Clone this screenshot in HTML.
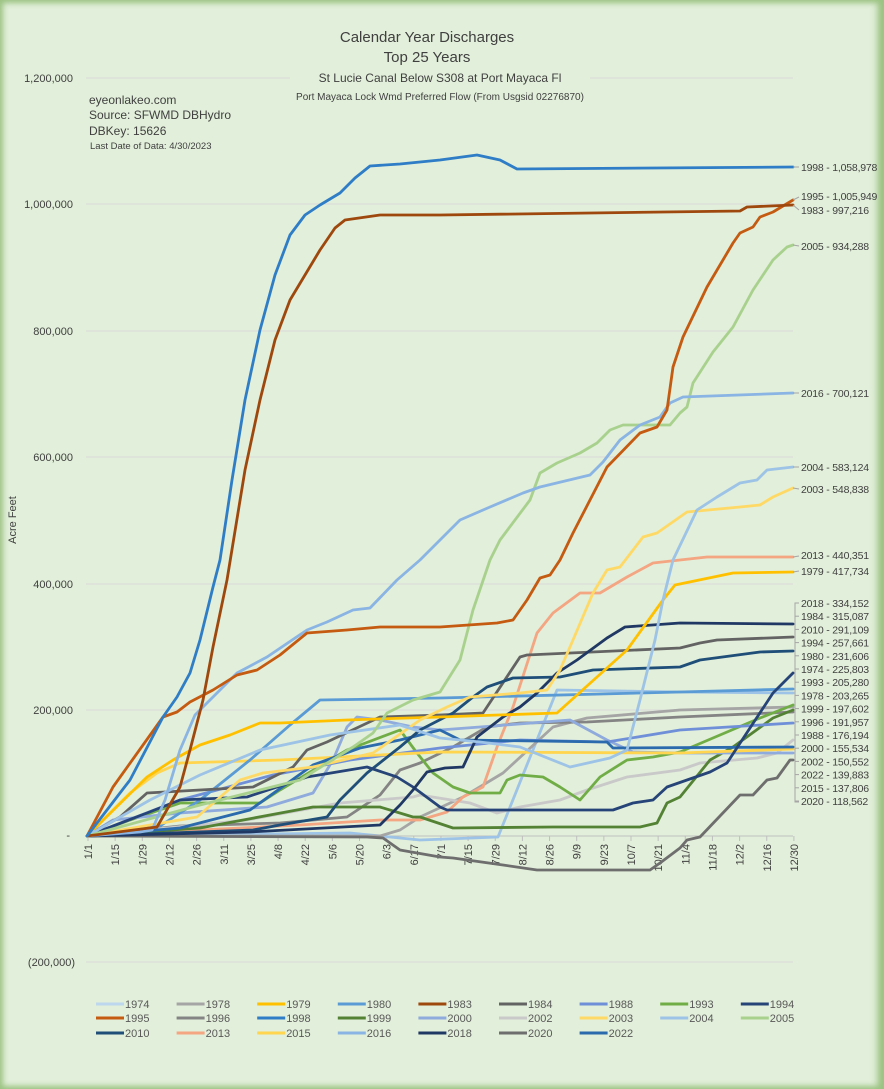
<!DOCTYPE html>
<html><head><meta charset="utf-8"><style>
html,body{margin:0;padding:0;}
body{width:884px;height:1089px;overflow:hidden;background:#e2efda;font-family:"Liberation Sans",sans-serif;}
.wrap{position:absolute;left:0;top:0;width:884px;height:1089px;box-shadow:inset 0 0 6px 3px #9cc383, inset -10px 0 8px -4px #9cc383;}
svg{position:absolute;left:0;top:0;}
</style></head><body><div class="wrap"></div>
<svg width="884" height="1089" xmlns="http://www.w3.org/2000/svg" font-family="Liberation Sans, sans-serif">
<g stroke="#d9d9d9" stroke-width="1">
<line x1="86" y1="78" x2="793" y2="78"/><line x1="86" y1="204" x2="793" y2="204"/>
<line x1="86" y1="331" x2="793" y2="331"/><line x1="86" y1="457" x2="793" y2="457"/>
<line x1="86" y1="584" x2="793" y2="584"/><line x1="86" y1="710" x2="793" y2="710"/>
<line x1="86" y1="962" x2="793" y2="962"/>
</g>
<rect x="290" y="68" width="300" height="36" fill="#e2efda"/>
<g fill="#404040" text-anchor="middle">
<text x="427" y="42" font-size="15">Calendar Year Discharges</text>
<text x="427" y="62" font-size="15">Top 25 Years</text>
<text x="440" y="82" font-size="12">St Lucie Canal Below S308 at Port Mayaca Fl</text>
<text x="440" y="100" font-size="10">Port Mayaca Lock Wmd Preferred Flow (From Usgsid 02276870)</text>
</g>
<g fill="#404040" font-size="12">
<text x="89" y="104">eyeonlakeo.com</text>
<text x="89" y="119">Source: SFWMD DBHydro</text>
<text x="89" y="135">DBKey: 15626</text>
<text x="90" y="149" font-size="9.5">Last Date of Data: 4/30/2023</text>
</g>
<g fill="#404040" font-size="11" text-anchor="end">
<text x="73" y="82">1,200,000</text><text x="73" y="208">1,000,000</text>
<text x="73" y="335">800,000</text><text x="73" y="461">600,000</text>
<text x="73" y="588">400,000</text><text x="73" y="714">200,000</text>
<text x="70" y="839">-</text><text x="75" y="966">(200,000)</text>
</g>
<text transform="translate(16,520) rotate(-90)" text-anchor="middle" font-size="11" fill="#404040">Acre Feet</text>
<line x1="86" y1="836" x2="793" y2="836" stroke="#bfbfbf"/>
<g id="xt" fill="#404040" font-size="11" text-anchor="end"></g>
<g fill="none" stroke-width="2.8" stroke-linejoin="round" stroke-linecap="round">
<polyline stroke="#9dc3e6" points="87,836 350,833 420,840 498,837 557,690 680,692 793,693"/>
<polyline stroke="#a5a5a5" points="87,836 380,836 400,830 420,817 463,797 503,773 553,727 587,718 680,710 793,707"/>
<polyline stroke="#848484" points="87,836 180,826 280,823 347,817 380,795 400,770 420,763 453,747 487,727 520,723 587,722 680,717 793,712"/>
<polyline stroke="#c9c9c9" points="87,836 247,820 340,803 413,797 420,795 470,803 497,813 520,807 560,800 587,790 627,777 680,770 700,763 757,758 777,753 793,740"/>
<polyline stroke="#6e6e6e" points="87,836 367,837 383,838 400,850 440,857 453,858 503,865 537,870 650,870 660,863 680,848 687,840 700,837 740,795 753,795 767,780 777,778 790,760 793,760"/>
<polyline stroke="#f4a582" points="87,836 200,830 300,825 380,820 420,820 447,812 463,797 483,787 497,747 513,707 537,633 553,613 580,593 600,593 627,577 653,563 707,557 793,557"/>
<polyline stroke="#548235" points="87,836 200,828 313,807 380,807 413,817 420,817 453,828 553,827 640,827 657,823 667,803 680,797 710,760 733,747 773,718 793,710"/>
<polyline stroke="#70ad47" points="87,836 130,820 180,803 260,803 280,790 347,750 400,730 417,753 433,773 453,787 470,793 500,793 507,780 520,775 543,777 560,787 580,800 600,777 627,760 653,757 680,752 720,735 760,718 793,705"/>
<polyline stroke="#8faadc" points="87,836 113,820 180,813 267,807 313,793 333,760 347,727 357,717 380,720 413,727 440,730 480,727 570,720 607,740 633,752 680,753 793,753"/>
<polyline stroke="#6f8fd8" points="87,836 180,800 273,775 350,760 440,748 520,740 607,742 680,730 793,723"/>
<polyline stroke="#ffd54f" points="87,836 130,793 157,773 180,763 280,760 440,752 680,753 793,749"/>
<polyline stroke="#2a6aad" points="87,836 180,828 250,810 313,765 360,748 400,740 440,730 460,740 607,742 613,748 793,747"/>
<polyline stroke="#5b9bd5" points="87,836 160,826 200,800 250,760 290,725 320,700 440,698 680,692 793,689"/>
<polyline stroke="#636363" points="87,836 120,817 147,793 253,787 293,767 307,750 327,742 380,717 440,715 483,713 520,657 527,655 680,648 700,643 717,640 793,637"/>
<polyline stroke="#1f4e79" points="87,836 253,830 280,825 327,817 340,800 367,773 400,747 420,730 453,713 473,697 487,687 513,678 560,677 593,670 680,667 700,660 760,652 793,651"/>
<polyline stroke="#264478" points="87,836 147,813 180,800 247,797 307,777 367,767 397,777 413,787 440,807 447,810 613,810 633,803 653,800 667,787 687,780 710,772 727,763 773,693 793,673"/>
<polyline stroke="#203864" points="87,836 250,832 380,825 400,805 413,790 427,772 445,768 463,767 477,737 503,717 520,707 537,693 557,673 577,660 607,638 625,627 680,623 793,624"/>
<polyline stroke="#ffc000" points="87,836 147,777 173,760 200,745 230,735 260,723 280,723 347,720 440,717 557,713 627,650 663,600 675,585 733,573 793,572"/>
<polyline stroke="#ffd966" points="87,836 150,825 197,817 240,780 263,773 313,767 373,753 420,720 447,707 470,697 520,693 547,690 560,670 573,640 593,593 607,570 620,567 643,537 657,533 687,512 740,507 760,505 773,497 793,488"/>
<polyline stroke="#9dc3e6" points="87,836 150,800 200,775 260,750 330,735 400,725 440,738 480,742 520,747 570,767 610,758 627,750 640,700 655,640 663,600 673,560 697,510 717,497 740,483 757,480 767,470 793,467"/>
<polyline stroke="#a9d18e" points="87,836 200,805 300,780 353,747 373,733 387,713 413,700 440,692 460,660 473,610 490,560 500,540 530,500 540,473 557,463 580,453 597,443 610,430 623,425 670,425 680,413 687,407 693,383 713,352 733,327 753,290 773,260 787,247 793,245"/>
<polyline stroke="#8ab4e3" points="87,836 140,832 152,830 165,800 180,750 195,715 210,700 237,673 267,657 307,630 327,622 353,610 370,608 397,580 420,560 440,540 460,520 490,507 523,493 540,487 590,475 603,462 620,440 640,425 660,417 670,403 683,397 793,393"/>
<polyline stroke="#c55a11" points="87,836 113,787 163,717 177,712 190,702 213,690 237,675 257,670 280,655 307,633 347,630 380,627 440,627 497,623 513,620 527,600 540,578 550,575 560,560 573,533 607,467 640,433 657,427 667,410 673,367 683,337 707,287 733,243 740,233 753,227 760,217 773,212 793,200"/>
<polyline stroke="#9e480e" points="87,836 157,827 180,787 190,750 203,700 213,647 227,580 245,470 260,400 275,340 290,300 305,275 320,250 335,228 345,220 380,215 440,215 740,211 747,207 793,205"/>
<polyline stroke="#2e7dc6" points="87,836 130,780 163,717 177,697 190,673 200,640 213,587 220,560 232,480 245,400 260,330 275,275 290,235 305,215 320,205 340,193 355,178 370,166 400,164 440,160 477,155 500,160 517,169 793,167"/>
</g>
<g stroke="#a6a6a6" fill="none">
<line x1="793" y1="167" x2="799" y2="167"/><line x1="793" y1="200" x2="799" y2="197"/>
<line x1="793" y1="205" x2="799" y2="210"/><line x1="793" y1="245" x2="799" y2="246"/>
<line x1="793" y1="393" x2="799" y2="393"/><line x1="793" y1="467" x2="799" y2="467"/>
<line x1="793" y1="488" x2="799" y2="489"/><line x1="793" y1="557" x2="799" y2="556"/>
<line x1="793" y1="572" x2="799" y2="571"/>
<polyline points="799,603 795,603 795,802 799,802"/>
</g>
<g fill="#404040" font-size="10.5" id="rl" letter-spacing="-0.2">
<text x="801" y="171">1998 - 1,058,978</text><text x="801" y="200">1995 - 1,005,949</text>
<text x="801" y="214">1983 - 997,216</text><text x="801" y="250">2005 - 934,288</text>
<text x="801" y="397">2016 - 700,121</text><text x="801" y="471">2004 - 583,124</text>
<text x="801" y="493">2003 - 548,838</text><text x="801" y="559">2013 - 440,351</text>
<text x="801" y="575">1979 - 417,734</text>
</g>
<g id="lg" font-size="11" fill="#595959"></g>
<script>
var ns="http://www.w3.org/2000/svg";
var xt=document.getElementById("xt");
var labs=["1/1","1/15","1/29","2/12","2/26","3/11","3/25","4/8","4/22","5/6","5/20","6/3","6/17","7/1","7/15","7/29","8/12","8/26","9/9","9/23","10/7","10/21","11/4","11/18","12/2","12/16","12/30"];
labs.forEach(function(l,i){var x=88+i*27.15;
var ln=document.createElementNS(ns,"line");ln.setAttribute("x1",x);ln.setAttribute("x2",x);ln.setAttribute("y1",836);ln.setAttribute("y2",841);ln.setAttribute("stroke","#bfbfbf");xt.appendChild(ln);
var t=document.createElementNS(ns,"text");t.setAttribute("transform","translate("+(x+4)+",844) rotate(-90)");t.textContent=l;xt.appendChild(t);});
var rl=document.getElementById("rl");
var r=["2018 - 334,152","1984 - 315,087","2010 - 291,109","1994 - 257,661","1980 - 231,606","1974 - 225,803","1993 - 205,280","1978 - 203,265","1999 - 197,602","1996 - 191,957","1988 - 176,194","2000 - 155,534","2002 - 150,552","2022 - 139,883","2015 - 137,806","2020 - 118,562"];
r.forEach(function(s,i){var y=603+i*13.2;var t=document.createElementNS(ns,"text");t.setAttribute("x",801);t.setAttribute("y",y+4);t.textContent=s;rl.appendChild(t);
var ln=document.createElementNS(ns,"line");ln.setAttribute("x1",795);ln.setAttribute("x2",799);ln.setAttribute("y1",y);ln.setAttribute("y2",y);ln.setAttribute("stroke","#a6a6a6");rl.appendChild(ln);});
var lg=document.getElementById("lg");
var items=[["1974","#bdd7ee"],["1978","#a5a5a5"],["1979","#ffc000"],["1980","#5b9bd5"],["1983","#9e480e"],["1984","#636363"],["1988","#6f8fd8"],["1993","#70ad47"],["1994","#264478"],["1995","#c55a11"],["1996","#848484"],["1998","#2e7dc6"],["1999","#548235"],["2000","#8faadc"],["2002","#c9c9c9"],["2003","#ffd966"],["2004","#9dc3e6"],["2005","#a9d18e"],["2010","#1f4e79"],["2013","#f4a582"],["2015","#ffd54f"],["2016","#8ab4e3"],["2018","#203864"],["2020","#6e6e6e"],["2022","#2a6aad"]];
var rows=[1004,1018,1033];
items.forEach(function(it,i){var c=i%9,rw=Math.floor(i/9);var x=96+c*80.6,y=rows[rw];
var ln=document.createElementNS(ns,"line");ln.setAttribute("x1",x);ln.setAttribute("x2",x+28);ln.setAttribute("y1",y);ln.setAttribute("y2",y);ln.setAttribute("stroke",it[1]);ln.setAttribute("stroke-width",3);lg.appendChild(ln);
var t=document.createElementNS(ns,"text");t.setAttribute("x",x+29);t.setAttribute("y",y+4);t.textContent=it[0];lg.appendChild(t);});
</script>
</svg>
</body></html>
